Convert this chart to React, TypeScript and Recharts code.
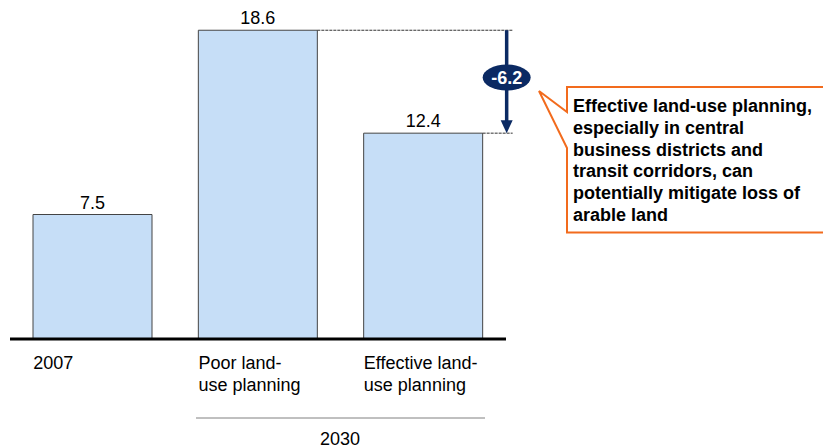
import React from "react";
import { BarChart, Bar, XAxis, YAxis, LabelList } from "recharts";

const categories = ["2007", "Poor land-use planning", "Effective land-use planning"];
const values = [7.5, 18.6, 12.4];
const tickLines = [["2007"], ["Poor land-", "use planning"], ["Effective land-", "use planning"]];
const groupLabel = "2030";
const calloutLines = [
  "Effective land-use planning,",
  "especially in central",
  "business districts and",
  "transit corridors, can",
  "potentially mitigate loss of",
  "arable land",
];

const data = categories.map((name, i) => ({ name, value: values[i], idx: i }));
const delta = (values[2] - values[1]).toFixed(1);

const FONT = "Arial, 'Liberation Sans', sans-serif";
const NAVY = "#0B2A63";
const ORANGE = "#F26B1D";

const CustomTick = (props: any) => {
  const { x, y, payload } = props;
  const lines = tickLines[payload.index] || [payload.value];
  return (
    <g>
      {lines.map((l: string, i: number) => (
        <text key={i} x={x - 59.5} y={y + 30 + i * 22} textAnchor="start" fontSize={18} fontFamily={FONT} fill="#000">
          {l}
        </text>
      ))}
    </g>
  );
};

const Annotation = (props: any) => {
  const vb = props.viewBox || props;
  const { x, y, width, height } = vb;
  const index = props.index;
  if (index === 1) {
    return (
      <line x1={x + width} y1={y} x2={x + width + 195.5} y2={y} stroke="#333" strokeWidth={1} strokeDasharray="3 1" />
    );
  }
  if (index === 2) {
    const base = y + height;
    const ppu = height / values[2];
    const poorY = base - values[1] * ppu;
    const ax = x + width + 24;
    const ey = poorY + 0.46 * (y - poorY);
    return (
      <g>
        <line x1={x + width} y1={y} x2={x + width + 30} y2={y} stroke="#333" strokeWidth={1} strokeDasharray="3 1" />
        <line x1={ax} y1={poorY} x2={ax} y2={y - 11} stroke={NAVY} strokeWidth={3.5} />
        <polygon points={`${ax - 6},${y - 13} ${ax + 6},${y - 13} ${ax},${y}`} fill={NAVY} />
        <ellipse cx={ax} cy={ey} rx={24} ry={13} fill={NAVY} />
        <text x={ax} y={ey + 6.5} textAnchor="middle" fontSize={18} fontWeight="bold" fontFamily={FONT} fill="#fff">
          {delta}
        </text>
      </g>
    );
  }
  return null;
};

export default function App() {
  return (
    <div style={{ position: "absolute", left: 0, top: 0, width: 823, height: 448, background: "#fff" }}>
      <BarChart width={823} height={448} data={data} margin={{ top: 7, right: 317, left: 10, bottom: 79 }}>
        <YAxis hide domain={[0, 20]} />
        <XAxis
          dataKey="name"
          height={30}
          axisLine={{ stroke: "#000", strokeWidth: 3 }}
          tickLine={false}
          tickSize={0}
          tickMargin={0}
          tick={<CustomTick />}
          interval={0}
        />
        <Bar dataKey="value" fill="#C6DEF7" stroke="#444" strokeWidth={1} barSize={119} isAnimationActive={false}>
          <LabelList dataKey="value" position="top" offset={6} fontSize={18} fontFamily={FONT} fill="#000" />
          <LabelList dataKey="value" content={<Annotation />} />
        </Bar>
      </BarChart>
      <svg width={823} height={448} style={{ position: "absolute", left: 0, top: 0, pointerEvents: "none" }}>
        <path d="M567,87 H830 V232.5 H567 V148 L539,91 L567,112 Z" fill="#fff" stroke={ORANGE} strokeWidth={2} />
        {calloutLines.map((l, i) => (
          <text key={i} x={573} y={112.3 + i * 21.7} fontSize={18} fontWeight="bold" fontFamily={FONT} fill="#000">
            {l}
          </text>
        ))}
        <line x1={196} y1={418} x2={485} y2={418} stroke="#808080" strokeWidth={1} />
        <text x={340} y={445} textAnchor="middle" fontSize={18} fontFamily={FONT} fill="#000">
          {groupLabel}
        </text>
      </svg>
    </div>
  );
}
